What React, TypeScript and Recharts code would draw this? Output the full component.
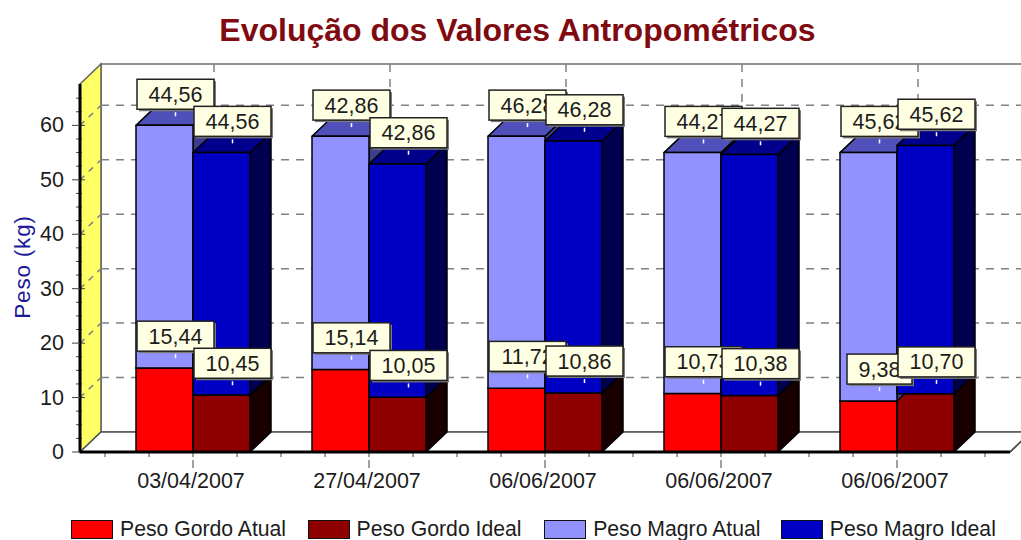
import React from 'react';
import { BarChart, Bar, XAxis, YAxis, Legend, LabelList, usePlotArea } from 'recharts';

const categories = ['03/04/2007', '27/04/2007', '06/06/2007', '06/06/2007', '06/06/2007'];
const pesoGordoAtual = [15.44, 15.14, 11.72, 10.73, 9.38];
const pesoGordoIdeal = [10.45, 10.05, 10.86, 10.38, 10.7];
const pesoMagroAtual = [44.56, 42.86, 46.28, 44.27, 45.62];
const pesoMagroIdeal = [44.56, 42.86, 46.28, 44.27, 45.62];
const yTicks = [0, 10, 20, 30, 40, 50, 60];
const yMinorTicks = [2.5, 5, 7.5, 12.5, 15, 17.5, 22.5, 25, 27.5, 32.5, 35, 37.5, 42.5, 45, 47.5, 52.5, 55, 57.5, 62.5, 65];
const Y_MAX = 67.6;

const rows = categories.map((date, i) => ({
  key: i,
  date,
  ga: pesoGordoAtual[i],
  gi: pesoGordoIdeal[i],
  ma: pesoMagroAtual[i],
  mi: pesoMagroIdeal[i],
}));

const FONT = '"Liberation Sans", Arial, sans-serif';
const TEXT = '#1c1c1c';
const FS = 21.5;
const DX = 21;
const DY = 20;
const W = 1021;
const H = 540;
const margin = { top: 84, right: 11, bottom: 14, left: 0 };
const overlayMargin = { top: 84, right: 11, bottom: 89, left: 80 };
const padX = { left: 25, right: 25 };

const Backdrop = () => {
  const p = usePlotArea();
  if (!p) return null;
  const { x, y, width, height } = p;
  const x1 = x + width;
  const y1 = y + height;
  const vy = (v: number) => y1 - (v / Y_MAX) * height;
  const band = (width - padX.left - padX.right) / categories.length;
  const first = x + padX.left;
  const grid = '#808080';
  return (
    <g>
      <rect x={x + DX} y={y - DY} width={W + 40 - x} height={height} fill="#ffffff" stroke="#707070" strokeWidth={1.5} />
      <polygon points={`${x},${y} ${x + DX},${y - DY} ${x + DX},${y1 - DY} ${x},${y1}`} fill="#ffff66" stroke="#606060" strokeWidth={1.5} />
      <polygon points={`${x},${y1} ${x + DX},${y1 - DY} ${x1 + DX},${y1 - DY} ${x1},${y1}`} fill="#ffffff" stroke="#505050" strokeWidth={1.5} />
      {yTicks.slice(1).map((v) => (
        <g key={v}>
          <line x1={x} y1={vy(v)} x2={x + DX} y2={vy(v) - DY} stroke={grid} strokeWidth={1.5} strokeDasharray="6 6" />
          <line x1={x + DX} y1={vy(v) - DY} x2={W} y2={vy(v) - DY} stroke={grid} strokeWidth={1.5} strokeDasharray="8 7" />
        </g>
      ))}
      {categories.map((c, i) => (
        <line key={i} x1={first + band * (i + 0.5) + DX} y1={y - DY} x2={first + band * (i + 0.5) + DX} y2={y1 - DY} stroke={grid} strokeWidth={1.5} strokeDasharray="8 7" />
      ))}
      {yMinorTicks.map((v) => (
        <line key={v} x1={x - 4} y1={vy(v)} x2={x + 2} y2={vy(v)} stroke="#404040" strokeWidth={1} />
      ))}
      {yTicks.map((v) => (
        <line key={v} x1={x} y1={vy(v)} x2={x + 5} y2={vy(v)} stroke="#404040" strokeWidth={1} />
      ))}
      {Array.from({ length: categories.length * 4 + 1 }, (_, i) => (
        <line key={i} x1={first + (band * i) / 4} y1={y1} x2={first + (band * i) / 4} y2={y1 + 5} stroke="#404040" strokeWidth={1} />
      ))}
      <line x1={x1} y1={y1} x2={x1 + DX} y2={y1 - DY} stroke="#505050" strokeWidth={1.5} />
      <text x={517.5} y={41} textAnchor="middle" fontFamily={FONT} fontWeight="bold" fontSize={32} fill="#7f0a10">
        Evolução dos Valores Antropométricos
      </text>
    </g>
  );
};

const Bar3D = (sideColor: string, topColor: string) => (props: any) => {
  const { x, y, width, height, fill } = props;
  const r = x + width;
  const b = y + height;
  return (
    <g stroke="#000000" strokeWidth={1.5} strokeLinejoin="round">
      <polygon points={`${r},${y} ${r + DX},${y - DY} ${r + DX},${b - DY} ${r},${b}`} fill={sideColor} />
      <polygon points={`${x},${y} ${x + DX},${y - DY} ${r + DX},${y - DY} ${r},${y}`} fill={topColor} />
      <rect x={x} y={y} width={width} height={height} fill={fill} />
    </g>
  );
};

const ValueLabel = (props: any) => {
  const { x, y, width, value } = props;
  const txt = Number(value).toFixed(2).replace('.', ',');
  const bw = txt.length >= 5 ? 77 : 65;
  const bh = 30;
  const cx = x + width / 2 + 11;
  const bottom = y - 16;
  const left = cx - bw / 2;
  return (
    <g>
      <rect x={left + 2} y={bottom - bh + 2} width={bw} height={bh} fill="#7a7a7a" />
      <rect x={left} y={bottom - bh} width={bw} height={bh} fill="#ffffe3" stroke="#222222" strokeWidth={1.5} />
      <line x1={cx} y1={bottom + 3} x2={cx} y2={bottom + 7} stroke="#ffffff" strokeWidth={1.5} />
      <text x={cx} y={bottom - bh / 2 + 7.5} textAnchor="middle" fontFamily={FONT} fontSize={FS} fill={TEXT}>
        {txt}
      </text>
    </g>
  );
};

const XTick = (props: any) => {
  const { x, y, payload } = props;
  return (
    <g>
      <line x1={x} y1={y - 8} x2={x} y2={y} stroke="#404040" strokeWidth={1} />
      <text x={x - 2} y={y + 20} textAnchor="middle" fontFamily={FONT} fontSize={FS} fill={TEXT}>
        {payload.value}
      </text>
    </g>
  );
};

const YTick = (props: any) => {
  const { x, y, payload } = props;
  return (
    <text x={x - 6} y={y + 7} textAnchor="end" fontFamily={FONT} fontSize={FS} fill={TEXT}>
      {payload.value}
    </text>
  );
};

const YLabel = () => (
  <text x={30} y={267} transform="rotate(-90 30 267)" textAnchor="middle" fontFamily={FONT} fontSize={22.5} letterSpacing={0.8} fill="#1a1a96">
    Peso (kg)
  </text>
);

const LegendRow = (props: any) => (
  <div style={{ display: 'flex', fontFamily: FONT, fontSize: 21.2, color: TEXT, lineHeight: '20px' }}>
    {(props.payload || []).map((it: any) => (
      <div key={it.value} style={{ display: 'flex', alignItems: 'center', width: 236.6 }}>
        <span style={{ width: 40, height: 17, background: it.color, border: '1.5px solid #111', marginRight: 7, flex: 'none' }} />
        <span style={{ whiteSpace: 'nowrap' }}>{it.value}</span>
      </div>
    ))}
  </div>
);

export default function App() {
  return (
    <div style={{ position: 'absolute', left: 0, top: 0, width: W, height: H, overflow: 'hidden', background: '#fff' }}>
      <div style={{ position: 'absolute', left: 0, top: 0 }}>
        <BarChart width={W} height={H} data={rows} margin={margin} barCategoryGap={31} barGap={0}>
          <Backdrop />
          <XAxis dataKey="key" type="category" padding={padX} height={50} axisLine={{ stroke: '#000', strokeWidth: 3 }} tickLine={false} tick={(p: any) => <XTick {...p} payload={{ value: categories[p.payload.value] }} y={p.y + 8} />} interval={0} />
          <YAxis
            type="number"
            domain={[0, Y_MAX]}
            ticks={yTicks}
            width={80}
            allowDataOverflow
            axisLine={{ stroke: '#000', strokeWidth: 3 }}
            tickLine={{ stroke: '#404040', strokeWidth: 1 }}
            tickSize={8}
            tick={<YTick />}
            label={<YLabel />}
          />
          <Bar dataKey="ga" name="Peso Gordo Atual" stackId="atual" fill="#ff0000" shape={Bar3D('#330000', '#990000')} isAnimationActive={false} />
          <Bar dataKey="gi" name="Peso Gordo Ideal" stackId="ideal" fill="#8f0000" shape={Bar3D('#190000', '#500000')} isAnimationActive={false} />
          <Bar dataKey="ma" name="Peso Magro Atual" stackId="atual" fill="#9191ff" shape={Bar3D('#3c3c90', '#5050bb')} isAnimationActive={false} />
          <Bar dataKey="mi" name="Peso Magro Ideal" stackId="ideal" fill="#0000c4" shape={Bar3D('#000050', '#00008c')} isAnimationActive={false} />
          <Legend verticalAlign="bottom" content={<LegendRow />} wrapperStyle={{ left: 71, bottom: -3, width: 950, height: 24 }} />
        </BarChart>
      </div>
      <div style={{ position: 'absolute', left: 0, top: 0 }}>
        <BarChart width={W} height={H} data={rows} margin={overlayMargin} barCategoryGap={31} barGap={0} style={{ background: 'transparent' }}>
          <XAxis dataKey="key" type="category" padding={padX} hide />
          <YAxis type="number" domain={[0, Y_MAX]} allowDataOverflow hide />
          <Bar dataKey="ga" stackId="atual" fill="none" isAnimationActive={false}>
            <LabelList dataKey="ga" content={<ValueLabel />} />
          </Bar>
          <Bar dataKey="gi" stackId="ideal" fill="none" isAnimationActive={false}>
            <LabelList dataKey="gi" content={<ValueLabel />} />
          </Bar>
          <Bar dataKey="ma" stackId="atual" fill="none" isAnimationActive={false}>
            <LabelList dataKey="ma" content={<ValueLabel />} />
          </Bar>
          <Bar dataKey="mi" stackId="ideal" fill="none" isAnimationActive={false}>
            <LabelList dataKey="mi" content={<ValueLabel />} />
          </Bar>
        </BarChart>
      </div>
    </div>
  );
}
